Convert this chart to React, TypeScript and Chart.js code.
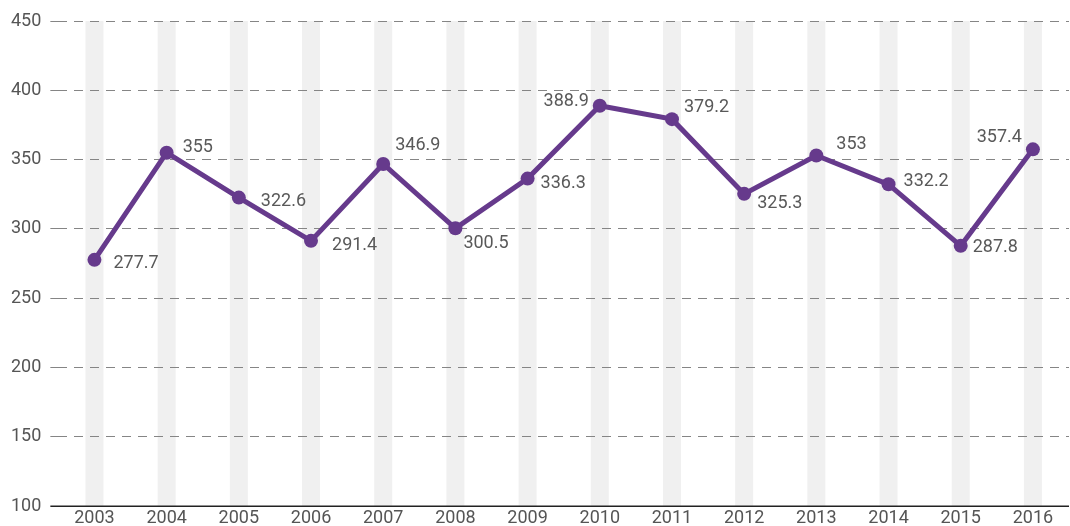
import React, { useEffect, useRef } from "react";
import { Chart, registerables } from "chart.js";

Chart.register(...registerables);

const years = ["2003", "2004", "2005", "2006", "2007", "2008", "2009", "2010", "2011", "2012", "2013", "2014", "2015", "2016"];
const values = [277.7, 355, 322.6, 291.4, 346.9, 300.5, 336.3, 388.9, 379.2, 325.3, 353, 332.2, 287.8, 357.4];
const valueLabels = ["277.7", "355", "322.6", "291.4", "346.9", "300.5", "336.3", "388.9", "379.2", "325.3", "353", "332.2", "287.8", "357.4"];
// label placement relative to each point: [dx, dy, align]
const labelOffsets: [number, number, CanvasTextAlign][] = [
  [19, 4, "left"], [16, -5, "left"], [22, 4, "left"], [21, 5, "left"], [12, -18, "left"],
  [8, 15, "left"], [13, 5, "left"], [-11, -4, "right"], [12, -12, "left"], [13, 10, "left"],
  [20, -11, "left"], [15, -3, "left"], [12, 2, "left"], [-11, -12, "right"],
];

const FONT = "Roboto, 'DejaVu Sans', sans-serif";
const LINE_COLOR = "#663a8c";

const bandsPlugin = {
  id: "bands",
  beforeDraw(chart: any) {
    const { ctx, chartArea, scales } = chart;
    const x = scales.x;
    ctx.save();
    ctx.fillStyle = "#f0f0f0";
    for (let i = 0; i < years.length; i++) {
      const px = x.getPixelForValue(i);
      ctx.fillRect(px - 9, chartArea.top, 18, chartArea.bottom - chartArea.top);
    }
    ctx.restore();
  },
  afterDatasetsDraw(chart: any) {
    const { ctx, chartArea } = chart;
    ctx.save();
    ctx.strokeStyle = "#222";
    ctx.lineWidth = 1.5;
    ctx.beginPath();
    ctx.moveTo(chartArea.left - 8, chartArea.bottom);
    ctx.lineTo(chartArea.right, chartArea.bottom);
    ctx.stroke();
    const meta = chart.getDatasetMeta(0);
    ctx.fillStyle = "#595959";
    ctx.font = `18px ${FONT}`;
    ctx.textBaseline = "middle";
    meta.data.forEach((pt: any, i: number) => {
      const [dx, dy, align] = labelOffsets[i];
      ctx.textAlign = align;
      ctx.fillText(valueLabels[i], pt.x + dx, pt.y + dy);
    });
    ctx.restore();
  },
};

export default function App() {
  const ref = useRef<HTMLCanvasElement>(null);
  useEffect(() => {
    document.body.style.margin = "0";
    const chart = new Chart(ref.current!, {
      type: "line",
      data: {
        labels: years,
        datasets: [
          {
            data: values,
            borderColor: LINE_COLOR,
            backgroundColor: LINE_COLOR,
            borderWidth: 5,
            pointRadius: 7,
            pointBorderWidth: 0,
            pointBackgroundColor: LINE_COLOR,
            tension: 0,
            clip: false,
          },
        ],
      },
      options: {
        animation: false,
        responsive: false,
        maintainAspectRatio: false,
        layout: { autoPadding: false, padding: { left: 2, right: 1, top: 21, bottom: -4 } },
        plugins: { legend: { display: false }, tooltip: { enabled: false } },
        scales: {
          x: {
            offset: true,
            grid: { display: false, drawTicks: false },
            border: { display: false },
            ticks: { color: "#555", font: { family: FONT, size: 18, lineHeight: 1.1 }, padding: 2, maxRotation: 0, autoSkip: false },
            afterFit: (s: any) => { s.paddingLeft = 0; s.paddingRight = 0; },
          },
          y: {
            min: 100,
            max: 450,
            border: { display: false, dash: [9, 7] },
            grid: {
              color: (c: any) => (c.tick && c.tick.value === 100 ? "rgba(0,0,0,0)" : "#858585"),
              lineWidth: 1,
              drawTicks: true,
              tickLength: 8,
              tickBorderDash: [9, 7],
            },
            ticks: { stepSize: 50, color: "#555", font: { family: FONT, size: 18 }, padding: 9 },
            afterFit: (s: any) => { s.paddingTop = 0; s.paddingBottom = 0; },
          },
        },
      },
      plugins: [bandsPlugin],
    });
    return () => chart.destroy();
  }, []);
  return (
    <div style={{ position: "fixed", left: 0, top: 0, width: 1070, height: 526 }}>
      <canvas ref={ref} width={1070} height={526} style={{ width: 1070, height: 526 }} />
    </div>
  );
}
